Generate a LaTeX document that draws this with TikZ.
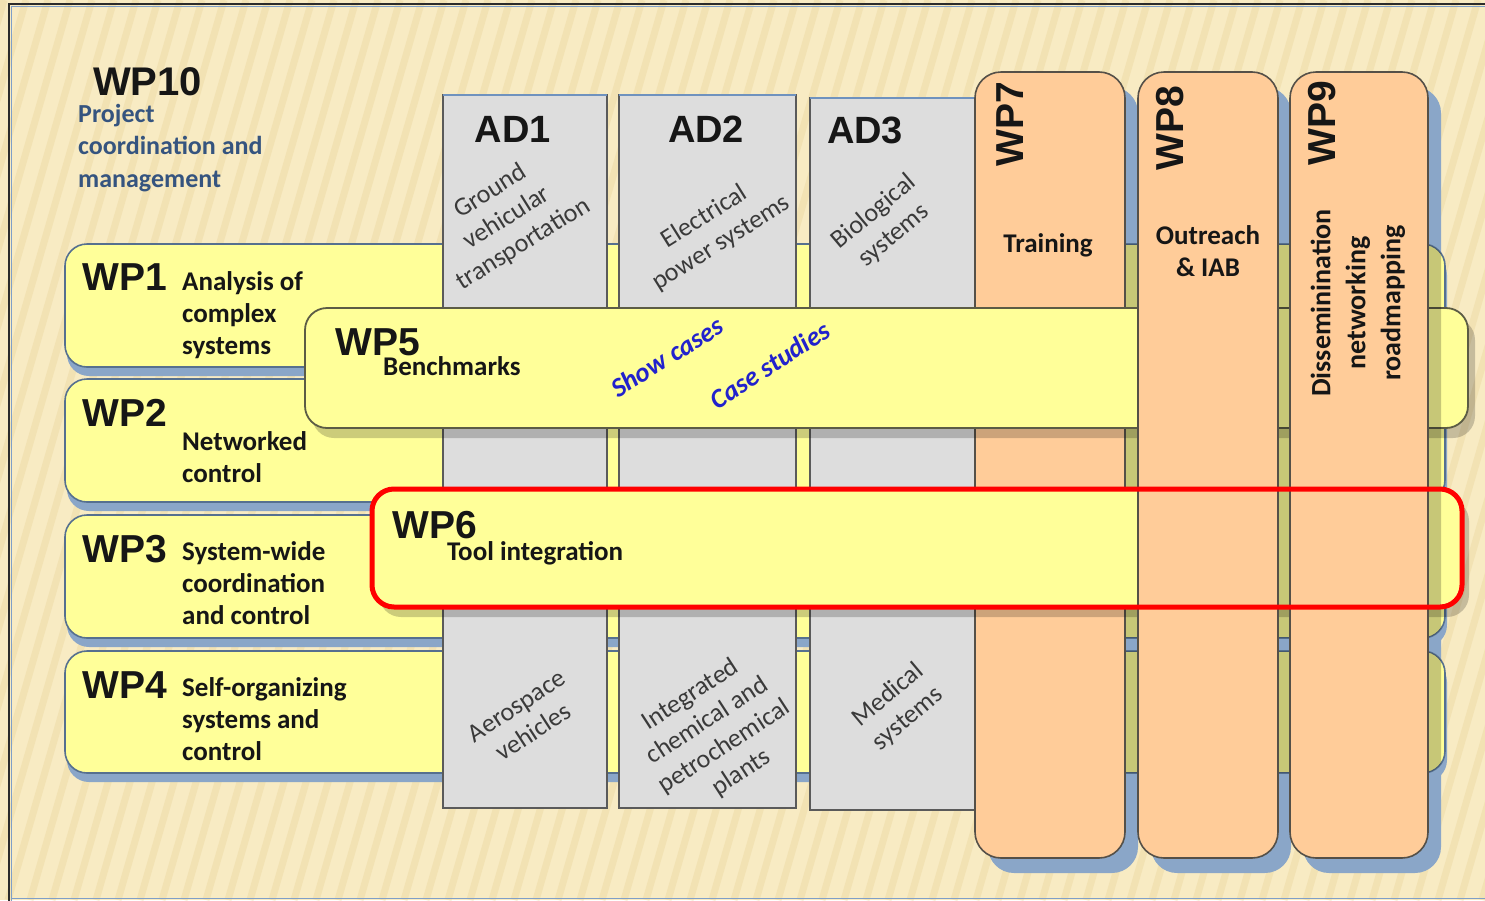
\documentclass[tikz,border=0pt]{standalone}
\usepackage{fontspec}
\setmainfont{Carlito}
\newfontfamily\arialfont{Liberation Sans}
\definecolor{bgbeige}{HTML}{F8EBC3}
\definecolor{stripe}{HTML}{EAD59C}
\definecolor{framedark}{HTML}{2B2B2B}
\definecolor{frameblue}{HTML}{7F9FC8}
\definecolor{rowyellow}{HTML}{FFFF99}
\definecolor{rowedge}{HTML}{56708F}
\definecolor{shadowblue}{HTML}{8AA6C8}
\definecolor{adgray}{HTML}{DDDDDD}
\definecolor{adedge}{HTML}{5A5A5A}
\definecolor{adtop}{HTML}{6F92BE}
\definecolor{wporange}{HTML}{FFCC99}
\definecolor{coledge}{HTML}{555048}
\definecolor{bandedge}{HTML}{5C5C45}
\definecolor{labelblack}{HTML}{161616}
\definecolor{adtextc}{HTML}{3A3A3A}
\definecolor{caseblue}{HTML}{2222CC}
\definecolor{projblue}{HTML}{35547F}
\begin{document}
\begin{tikzpicture}[x=1pt,y=-1pt,
  rowbox/.style={fill=rowyellow,draw=rowedge,line width=1.6,rounded corners=22},
  adcol/.style={fill=adgray,draw=adedge,line width=1.4},
  wpcol/.style={fill=wporange,draw=coledge,line width=1.6,rounded corners=26},
  bandbox/.style={fill=rowyellow,draw=bandedge,line width=1.8,rounded corners=22},
  bluesh/.style={fill=shadowblue},
  darksh/.style={fill=black,opacity=.22},
  greysh/.style={fill=black,opacity=.2},
  wplabel/.style={font=\arialfont\bfseries\fontsize{39}{39}\selectfont,text=labelblack,inner sep=0,anchor=base west},
  desc/.style={font=\bfseries\fontsize{27}{32}\selectfont,text=labelblack,inner sep=0,anchor=base west,align=left},
  adlabel/.style={font=\arialfont\bfseries\fontsize{38}{38}\selectfont,text=labelblack,inner sep=0,anchor=base},
  adtext/.style={font=\fontsize{26}{31}\selectfont,text=adtextc,inner sep=0,align=center},
  coltitle/.style={font=\arialfont\bfseries\fontsize{39}{39}\selectfont,text=labelblack,inner sep=0,rotate=90},
  coltext/.style={font=\bfseries\fontsize{27}{32}\selectfont,text=labelblack,inner sep=0,align=center},
  casetext/.style={font=\bfseries\itshape\fontsize{27}{27}\selectfont,text=caseblue,inner sep=0},
]
\useasboundingbox (0,0) rectangle (1485,900);
% striped beige backdrop
\fill[bgbeige] (0,0) rectangle (1485,900);
\begin{scope}
  \clip (0,0) rectangle (1485,900);
  \foreach \i in {-300,-278,...,1500}
    \draw[stripe,line width=7,opacity=.4] (\i,900) -- (\i+260,0);
\end{scope}
% slide frame
\draw[framedark,line width=2] (1490,4) -- (9,4) -- (9,905);
\draw[frameblue,line width=1.5] (1490,6.5) -- (11.5,6.5) -- (11.5,905);
\draw[frameblue,line width=1.5] (11.5,898.5) -- (1490,898.5);

% cast shadows on the backdrop
\foreach \t/\b in {244/367,379/502,515/638,651/773}
  \fill[bluesh,rounded corners=22] (67,\t+9) rectangle (1447,\b+9);
\foreach \l/\r in {975/1125,1138/1278,1290/1428}
  \fill[bluesh,rounded corners=26] (\l+13,87) rectangle (\r+13,873);

% horizontal work packages WP1-WP4
\foreach \t/\b in {244/367,379/502,515/638,651/773}
  \draw[rowbox] (65,\t) rectangle (1445,\b);

% application domains
\draw[adcol] (443,95) rectangle (607,808);
\draw[adcol] (619,95) rectangle (796,808);
\draw[adcol] (810,98) rectangle (975,810);
\draw[adtop,line width=2] (443,95) -- (607,95);
\draw[adtop,line width=2] (619,95) -- (796,95);
\draw[adtop,line width=2] (810,98) -- (975,98);

% WP7 column
\begin{scope}
  \clip[rounded corners=22] (65,244) rectangle (1445,367) (65,379) rectangle (1445,502)
    (65,515) rectangle (1445,638) (65,651) rectangle (1445,773);
  \fill[darksh,rounded corners=26] (988,87) rectangle (1138,873);
\end{scope}
\draw[wpcol] (975,72) rectangle (1125,858);

% WP5 and WP6 bands
\fill[greysh,rounded corners=22] (312,318) rectangle (1475,438);
\draw[bandbox] (305,308) rectangle (1468,428);
\fill[greysh,rounded corners=22] (379,499) rectangle (1469,617);
\fill[rowyellow,rounded corners=22] (372,489) rectangle (1462,607);

% WP8 and WP9 columns
\begin{scope}
  \clip[rounded corners=22] (65,244) rectangle (1445,367) (65,379) rectangle (1445,502)
    (65,515) rectangle (1445,638) (65,651) rectangle (1445,773)
    (305,308) rectangle (1468,428) (372,489) rectangle (1462,607);
  \fill[darksh,rounded corners=26] (1151,87) rectangle (1291,873);
  \fill[darksh,rounded corners=26] (1303,87) rectangle (1441,873);
\end{scope}
\draw[wpcol] (1138,72) rectangle (1278,858);
\draw[wpcol] (1290,72) rectangle (1428,858);

% highlight of WP6
\draw[red,line width=5,rounded corners=22] (372,489) rectangle (1462,607);

% WP10 title block (multi-line nodes sit on the baseline of their last line)
\node[font=\arialfont\bfseries\fontsize{40}{40}\selectfont,text=labelblack,inner sep=0,anchor=base west]
  (wp10) at (93,95) {WP10};
\node[font=\bfseries\fontsize{26}{32.5}\selectfont,text=projblue,inner sep=0,anchor=base west,align=left]
  (wp10d) at (78,187) {Project\\coordination and\\management};

% row labels
\node[wplabel] (wp1) at (82,290) {WP1};
\node[desc] (wp1d) at (182,354) {Analysis of\\complex\\systems};
\node[wplabel] (wp2) at (82,426) {WP2};
\node[desc] (wp2d) at (182,482) {Networked\\control};
\node[wplabel] (wp3) at (82,562) {WP3};
\node[desc] (wp3d) at (182,624) {System-wide\\coordination\\and control};
\node[wplabel] (wp4) at (82,698) {WP4};
\node[desc] (wp4d) at (182,760) {Self-organizing\\systems and\\control};

% band labels
\node[wplabel] (wp5) at (335,355) {WP5};
\node[desc] (wp5d) at (383,375) {Benchmarks};
\node[casetext,rotate=32] (show) at (667,357) {Show cases};
\node[casetext,rotate=33] (study) at (770,365) {Case studies};
\node[wplabel] (wp6) at (392,538) {WP6};
\node[desc] (wp6d) at (447,560) {Tool integration};

% application domain labels
\node[adlabel] (ad1) at (513,142) {AD1};
\node[adlabel] (ad2) at (706,142) {AD2};
\node[adlabel] (ad3) at (865,143) {AD3};
\node[adtext,rotate=32] (ad1a) at (507,218) {Ground\\vehicular\\transportation};
\node[adtext,rotate=32] (ad2a) at (713,230) {Electrical\\power systems};
\node[adtext,rotate=40] (ad3a) at (884,224) {Biological\\systems};
\node[adtext,rotate=33] (ad1b) at (525,719) {Aerospace\\vehicles};
\node[adtext,rotate=33] (ad2b) at (716,734) {Integrated\\chemical and\\petrochemical\\plants};
\node[adtext,rotate=40] (ad3b) at (898,707) {Medical\\systems};

% column labels
\node[coltitle] (wp7) at (1010,124) {WP7};
\node[coltitle] (wp8) at (1170,128) {WP8};
\node[coltitle] (wp9) at (1322,123) {WP9};
\node[coltext] (wp7d) at (1048,245) {Training};
\node[coltext] (wp8d) at (1208,251) {Outreach\\\& IAB};
\node[coltext,font=\bfseries\fontsize{28}{35}\selectfont,rotate=90] (wp9d) at (1358,303)
  {Disseminination\\networking\\roadmapping};
\end{tikzpicture}
\end{document}
